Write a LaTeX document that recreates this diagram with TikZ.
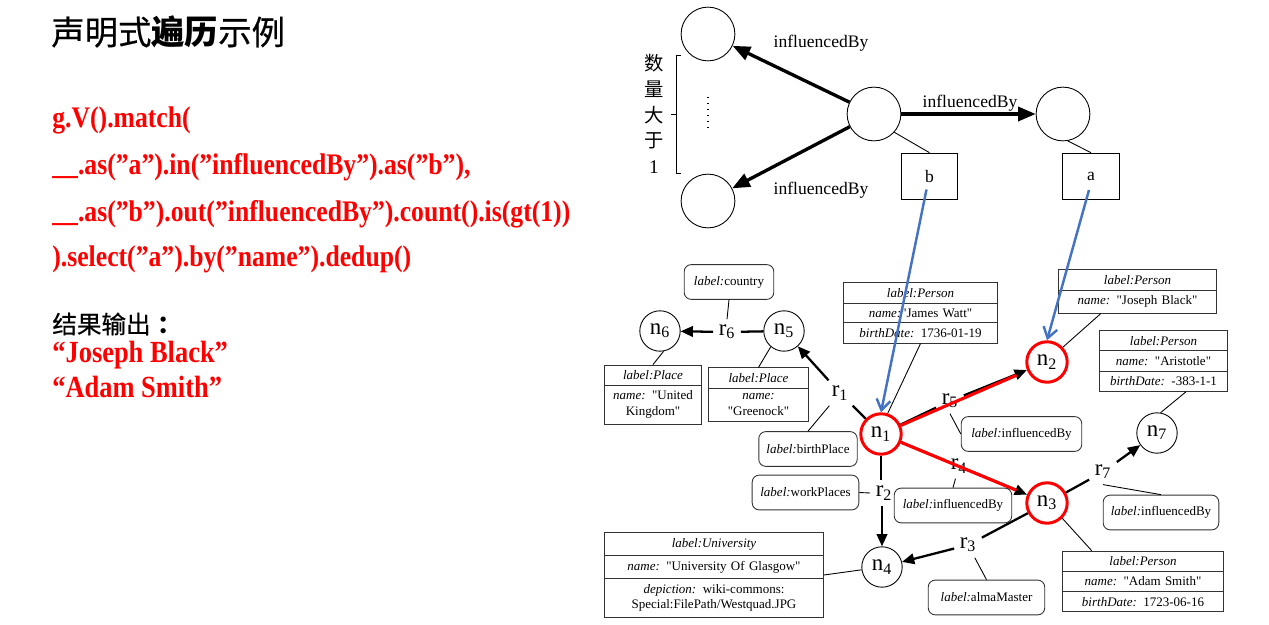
\documentclass[tikz,border=0pt]{standalone}
\usepackage{fontspec}
\setmainfont{Liberation Serif}[Ligatures=TeXOff]
\newfontfamily\cjk{Noto Sans CJK SC}
\newfontfamily\cjkmed[FakeBold=0.5]{Noto Sans CJK SC}
\newfontfamily\codefont[FakeStretch=0.86]{Liberation Serif}
\usetikzlibrary{arrows.meta,shapes.multipart}
\definecolor{hitred}{RGB}{255,0,0}
\definecolor{linkblue}{RGB}{68,114,196}
\newcommand{\boxfont}{\fontsize{7.4}{9}\selectfont}
\newcommand{\nodefont}{\fontsize{13}{15}\selectfont}
\tikzset{
  ring/.style={circle, draw, line width=0.5pt, minimum size=30.6pt, inner sep=0pt},
  var/.style={draw, line width=0.5pt, minimum width=32.3pt, minimum height=26.6pt, font=\fontsize{10}{12}\selectfont},
  bigtip/.style={line width=1.9pt, -{Triangle[length=10pt,width=8pt]}},
  vertex/.style={circle, draw, line width=0.5pt, minimum size=23pt, inner sep=0pt, font=\nodefont},
  hit/.style={vertex, draw=hitred, line width=1.7pt},
  rel/.style={inner sep=3pt, font=\nodefont},
  edge/.style={line width=1.3pt},
  tip/.style={edge, -{Triangle[length=7pt,width=6pt]}},
  hl/.style={draw=hitred, line width=1.8pt, shorten >=6.5pt},
  blu/.style={draw=linkblue, line width=1.4pt, -{Straight Barb[length=6pt,width=8pt]}},
  prop/.style={draw=black!80, line width=0.5pt, rectangle split, rectangle split parts=#1,
    rectangle split part align=center, align=center, inner xsep=2pt, inner ysep=2.9pt, font=\boxfont},
  tag/.style={draw=black!80, line width=0.5pt, rounded corners=4pt, minimum height=19.8pt, font=\boxfont},
  code/.style={anchor=west, inner sep=0pt, text=hitred, font=\codefont\bfseries\fontsize{17}{20}\selectfont}
}
\begin{document}
\begin{tikzpicture}[x=0.02cm, y=-0.02cm]
  \useasboundingbox (0,0) rectangle (1269,625);
  % Title and query
  \node[anchor=west, inner sep=0pt, font=\cjkmed\fontsize{19}{22}\selectfont] (title) at (51,32) {声明式{\cjk\bfseries 遍历}示例};
  \node[code] (q1) at (52,120) {g.V().match(};
  \node[code] (q2) at (52,167) {\_\_.as(”a”).in(”influencedBy”).as(”b”),};
  \node[code] (q3) at (52,214) {\_\_.as(”b”).out(”influencedBy”).count().is(gt(1))};
  \node[code] (q4) at (52,259) {).select(”a”).by(”name”).dedup()};
  \node[anchor=west, inner sep=0pt, font=\cjkmed\fontsize{14}{16}\selectfont] (out) at (52,324) {结果输出\hspace{4pt}{\cjk\bfseries ：}};
  \node[code, font=\codefont\bfseries\fontsize{17.5}{20}\selectfont] (ans1) at (52,355) {“Joseph Black”};
  \node[code, font=\codefont\bfseries\fontsize{17.5}{20}\selectfont] (ans2) at (52,387) {“Adam Smith”};

  % Pattern sketch
  \node[ring] (mid) at (874,114) {};
  \node[ring] (up) at (708,34) {};
  \node[ring] (down) at (708,201) {};
  \node[ring] (right) at (1063,114) {};
  \draw[bigtip] (mid) -- (up);
  \draw[bigtip] (mid) -- (down);
  \draw[bigtip] (mid) -- (right);
  \node[font=\fontsize{10}{12}\selectfont] (lup) at (821,43) {influencedBy};
  \node[font=\fontsize{10}{12}\selectfont] (ldown) at (821,190) {influencedBy};
  \node[font=\fontsize{10}{12}\selectfont] (lright) at (970,103) {influencedBy};
  \node[var] (b) at (929.5,176.5) {b};
  \node[var] (a) at (1091,176.5) {a};
  \draw[line width=0.5pt] (mid.-42) -- (b.north);
  \draw[line width=0.5pt] (right.-80) -- (a.north);
  \draw[dash pattern=on 0.8pt off 2.6pt, line width=0.8pt] (708,97) -- (708,131);
  \draw[line width=0.5pt] (681,55) -- (676,55) -- (676,173) -- (681,173);
  \draw[line width=0.5pt] (676,114) -- (671,114);
  \node[align=center, inner sep=0pt, font=\cjk\fontsize{11}{14.7}\selectfont] (cnt) at (654,114) {数\\量\\大\\于\\{\rmfamily 1}};

  % Data graph: vertices
  \node[hit] (n1) at (881,434) {n\textsubscript{1}};
  \node[hit] (n2) at (1047,362) {n\textsubscript{2}};
  \node[hit] (n3) at (1047,503) {n\textsubscript{3}};
  \node[vertex] (n4) at (882,567) {n\textsubscript{4}};
  \node[vertex] (n5) at (784,331) {n\textsubscript{5}};
  \node[vertex] (n6) at (660,331) {n\textsubscript{6}};
  \node[vertex] (n7) at (1157,433) {n\textsubscript{7}};
  % relations
  \node[rel] (r1) at (840,393) {r\textsubscript{1}};
  \node[rel] (r2) at (884,493) {r\textsubscript{2}};
  \node[rel] (r3) at (968,545) {r\textsubscript{3}};
  \node[rel] (r4) at (959,466) {r\textsubscript{4}};
  \node[rel] (r5) at (950,401) {r\textsubscript{5}};
  \node[rel] (r6) at (727,332) {r\textsubscript{6}};
  \node[rel] (r7) at (1103,472) {r\textsubscript{7}};
  \draw[edge] (n1) -- (n1 |- r2.north);  \draw[tip] (r2.south -| n4) -- (n4);
  \draw[edge] (n1) -- (r1);  \draw[tip] (r1) -- (n5);
  \draw[edge] (n3) -- (r3);  \draw[tip] (r3) -- (n4);
  \draw[edge] (n1) -- (r4);  \draw[tip] (r4) -- (n3);
  \draw[edge] (n1) -- (r5);  \draw[tip] (r5) -- (n2);
  \draw[edge] (n5) -- (r6);  \draw[tip] (r6) -- (n6);
  \draw[edge] (n3) -- (r7);  \draw[tip] (r7) -- (n7);
  % matched path
  \draw[hl] (n1) -- (n2);
  \draw[hl] (n1) -- (n3);

  % property boxes
  \node[prop=2, text width=51.6pt] (pl6) at (653,394.5) {\textit{label:Place}\nodepart{two}\textit{name:} "United\\Kingdom"};
  \node[prop=2, text width=53.3pt] (pl5) at (758.5,394.5) {\textit{label:Place}\nodepart{two}\textit{name:}\\"Greenock"};
  \node[prop=3, text width=83.9pt] (watt) at (920.5,313) {\textit{label:Person}\nodepart{two}\textit{name:}"James Watt"\nodepart{three}\textit{birthDate:} 1736-01-19};
  \node[prop=2, text width=86.2pt] (jb) at (1137.5,291.5) {\textit{label:Person}\nodepart{two}\textit{name:} "Joseph Black"};
  \node[prop=3, text width=69.1pt] (ar) at (1163.5,361) {\textit{label:Person}\nodepart{two}\textit{name:} "Aristotle"\nodepart{three}\textit{birthDate:} -383-1-1};
  \node[prop=3, text width=120.7pt] (univ) at (714,575) {\textit{label:University}\nodepart{two}\textit{name:} "University Of Glasgow"\nodepart{three}\textit{depiction:} wiki-commons:\\Special:FilePath/Westquad.JPG};
  \node[prop=3, text width=87.9pt] (adam) at (1143,581.5) {\textit{label:Person}\nodepart{two}\textit{name:} "Adam Smith"\nodepart{three}\textit{birthDate:} 1723-06-16};
  % label boxes
  \node[tag, minimum width=51pt] (cty) at (729,282) {\textit{label:}country};
  \node[tag, minimum width=56pt] (bp) at (808,449) {\textit{label:}birthPlace};
  \node[tag, minimum width=60.7pt] (wp) at (805.5,492.5) {\textit{label:}workPlaces};
  \node[tag, minimum width=68.6pt] (ib5) at (1021.5,434) {\textit{label:}influencedBy};
  \node[tag, minimum width=66.9pt] (ib4) at (953,505.5) {\textit{label:}influencedBy};
  \node[tag, minimum width=65.8pt] (ib7) at (1161,512.5) {\textit{label:}influencedBy};
  \node[tag, minimum width=66.3pt] (alma) at (986.5,597.5) {\textit{label:}almaMaster};
  % thin links
  \draw[line width=0.5pt] (cty.south) -- (r6.north);
  \draw[line width=0.5pt] (n6.-80) -- (pl6.north);
  \draw[line width=0.5pt] (n5.-130) -- (pl5.north);
  \draw[line width=0.5pt] (r1) -- (bp.north);
  \draw[line width=0.5pt] (n1.72) -- (watt.south);
  \draw[line width=0.5pt] (n2.43) -- (jb.-149);
  \draw[line width=0.5pt] (n7.80) -- (ar.-54);
  \draw[line width=0.5pt] (r5.south) -- (ib5.west);
  \draw[line width=0.5pt] (wp.east) -- (r2.west);
  \draw[line width=0.5pt] (r4) -- (ib4.north);
  \draw[line width=0.5pt] (r7.south) -- (ib7.north);
  \draw[line width=0.5pt] (r3) -- (alma.north);
  \draw[line width=0.5pt] (n3.-45) -- (adam.149);
  \draw[line width=0.5pt] (n4) -- (univ.east);
  % variable bindings
  \draw[blu] ([shift={(-3,13)}]b.center) -- (n1.north);
  \draw[blu] ([shift={(-2,13.5)}]a.center) -- (n2.north);
\end{tikzpicture}
\end{document}
